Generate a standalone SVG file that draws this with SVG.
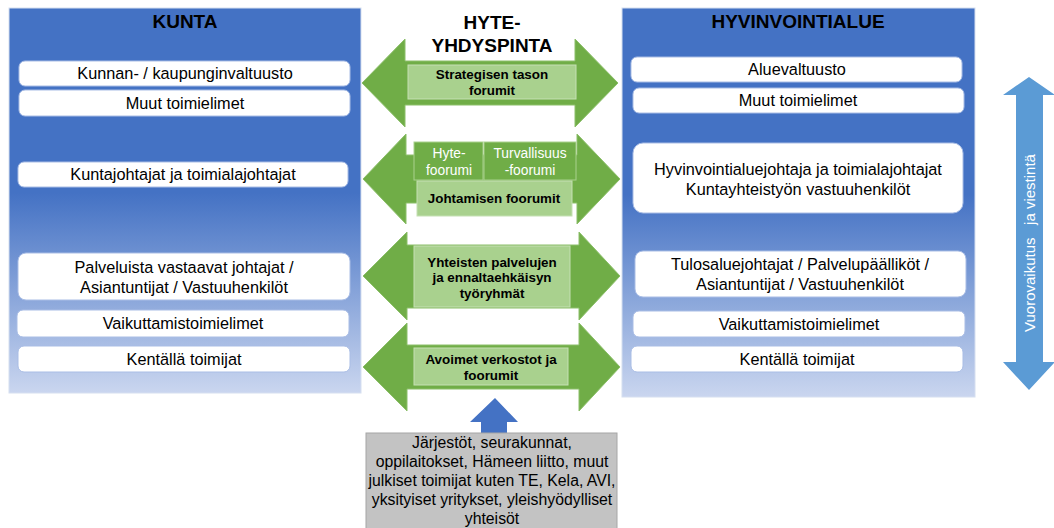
<svg xmlns="http://www.w3.org/2000/svg" width="1054" height="528" viewBox="0 0 1054 528">
<defs>
<linearGradient id="panelGrad" x1="0" y1="0" x2="0" y2="1">
<stop offset="0" stop-color="#4472C4"/>
<stop offset="0.48" stop-color="#4472C4"/>
<stop offset="1" stop-color="#CAD6EF"/>
</linearGradient>
<style>
.panel{fill:url(#panelGrad);stroke:#D6DFF0;stroke-width:1}
.title{font-family:"Liberation Sans",Arial,sans-serif;font-size:19px;font-weight:bold;fill:#000;text-anchor:middle}
.wbox{fill:#FFFFFF;stroke:#A9BDE5;stroke-width:1}
.wtxt{font-family:"Liberation Sans",Arial,sans-serif;font-size:16.3px;fill:#000;text-anchor:middle}
.gray{font-family:"Liberation Sans",Arial,sans-serif;font-size:15.8px;fill:#000;text-anchor:middle}
.garrow{fill:#70AD47;stroke:#8CBF6A;stroke-width:1}
.lbox{fill:#A9D18E;stroke:#C5E0B4;stroke-width:1}
.dbox{fill:#70AD47;stroke:#A9D18E;stroke-width:1}
.btxt{font-family:"Liberation Sans",Arial,sans-serif;font-size:13.4px;font-weight:bold;fill:#000;text-anchor:middle}
.gtxt{font-family:"Liberation Sans",Arial,sans-serif;font-size:13.8px;fill:#FFFFFF;text-anchor:middle}
.vtxt{font-family:"Liberation Sans",Arial,sans-serif;font-size:15px;fill:#FFFFFF;text-anchor:middle;white-space:pre}
</style>
</defs>

<g id="kunta">
<rect class="panel" x="9" y="8" width="352" height="385"/>
<text class="title" x="185" y="28">KUNTA</text>
</g>
<g id="kunta-valtuusto"><rect class="wbox" x="19" y="61" width="331" height="25" rx="6"/><text class="wtxt" x="185" y="79">Kunnan- / kaupunginvaltuusto</text></g>
<g id="kunta-muut"><rect class="wbox" x="19" y="90" width="331" height="26" rx="6"/><text class="wtxt" x="185" y="109">Muut toimielimet</text></g>
<g id="kunta-johtajat"><rect class="wbox" x="18" y="162" width="330" height="25" rx="6"/><text class="wtxt" x="183" y="180">Kuntajohtajat ja toimialajohtajat</text></g>
<g id="kunta-palvelut"><rect class="wbox" x="18" y="253" width="332" height="47" rx="8"/><text class="wtxt" x="184" y="273">Palveluista vastaavat johtajat /</text><text class="wtxt" x="184" y="293">Asiantuntijat / Vastuuhenkilöt</text></g>
<g id="kunta-vaikuttamis"><rect class="wbox" x="17" y="310" width="332" height="27" rx="6"/><text class="wtxt" x="183" y="329">Vaikuttamistoimielimet</text></g>
<g id="kunta-kentta"><rect class="wbox" x="18" y="346" width="332" height="26" rx="6"/><text class="wtxt" x="184" y="365">Kentällä toimijat</text></g>

<g id="hyvinvointialue">
<rect class="panel" x="622" y="8" width="353" height="389"/>
<text class="title" x="798" y="28">HYVINVOINTIALUE</text>
</g>
<g id="ha-valtuusto"><rect class="wbox" x="631" y="57" width="331" height="25" rx="6"/><text class="wtxt" x="797" y="75">Aluevaltuusto</text></g>
<g id="ha-muut"><rect class="wbox" x="633" y="88" width="331" height="25" rx="6"/><text class="wtxt" x="798" y="106">Muut toimielimet</text></g>
<g id="ha-johtajat"><rect class="wbox" x="633" y="143" width="330" height="70" rx="10"/><text class="wtxt" x="798" y="175">Hyvinvointialuejohtaja ja toimialajohtajat</text><text class="wtxt" x="798" y="195">Kuntayhteistyön vastuuhenkilöt</text></g>
<g id="ha-tulosalue"><rect class="wbox" x="635" y="251" width="331" height="46" rx="8"/><text class="wtxt" x="800" y="270">Tulosaluejohtajat / Palvelupäälliköt /</text><text class="wtxt" x="800" y="290">Asiantuntijat / Vastuuhenkilöt</text></g>
<g id="ha-vaikuttamis"><rect class="wbox" x="633" y="311" width="332" height="26" rx="6"/><text class="wtxt" x="799" y="330">Vaikuttamistoimielimet</text></g>
<g id="ha-kentta"><rect class="wbox" x="631" y="346" width="332" height="26" rx="6"/><text class="wtxt" x="797" y="365">Kentällä toimijat</text></g>

<g id="hyte-title">
<text class="title" x="492" y="29">HYTE-</text>
<text class="title" x="492" y="52">YHDYSPINTA</text>
</g>

<g id="connectors">
<polygon class="garrow" points="362,83 405,39 405,61 575,61 575,39 618,83 575,127 575,105 405,105 405,127"/>
<polygon class="garrow" points="363,179 406,134 406,155 577,155 577,134 620,179 577,224 577,203 406,203 406,224"/>
<polygon class="garrow" points="363,276 407,232 407,245 579,245 579,232 620,276 579,320 579,308 407,308 407,320"/>
<polygon class="garrow" points="363,367 407,323 407,345 579,345 579,323 620,367 579,411 579,389 407,389 407,411"/>
<polygon fill="#5B9BD5" points="1029,77 1055,95 1043,95 1043,362 1055,362 1029,390 1003,362 1016,362 1016,95 1003,95"/>
<polygon fill="#4472C4" points="495,398 518,422 507,422 507,433 481,433 481,422 470,422"/>
</g>

<g id="strategiset">
<rect class="lbox" x="408" y="65" width="168" height="34"/>
<text class="btxt" x="492" y="79">Strategisen tason</text>
<text class="btxt" x="492" y="95">forumit</text>
</g>
<g id="hyte-foorumi">
<rect class="dbox" x="414" y="142" width="69" height="38"/>
<text class="gtxt" x="449" y="158">Hyte-</text>
<text class="gtxt" x="449" y="175">foorumi</text>
</g>
<g id="turvallisuus-foorumi">
<rect class="dbox" x="484" y="142" width="92" height="38"/>
<text class="gtxt" x="530" y="158">Turvallisuus</text>
<text class="gtxt" x="530" y="175">-foorumi</text>
</g>
<g id="johtamisen">
<rect class="lbox" x="417" y="181" width="155" height="35"/>
<text class="btxt" x="494" y="203">Johtamisen foorumit</text>
</g>
<g id="yhteisten">
<rect class="lbox" x="414" y="246" width="156" height="61"/>
<text class="btxt" x="492" y="267">Yhteisten palvelujen</text>
<text class="btxt" x="492" y="282">ja ennaltaehkäisyn</text>
<text class="btxt" x="492" y="298">työryhmät</text>
</g>
<g id="avoimet">
<rect class="lbox" x="414" y="348" width="154" height="37"/>
<text class="btxt" x="491" y="364">Avoimet verkostot ja</text>
<text class="btxt" x="491" y="380">foorumit</text>
</g>

<g id="vuorovaikutus">
<text class="vtxt" transform="translate(1035,243) rotate(-90)">Vuorovaikutus   ja viestintä</text>
</g>

<g id="muut-toimijat">
<rect x="366" y="433" width="251" height="100" fill="#C3C3C3" stroke="#A6A6A6" stroke-width="1"/>
<text class="gray" x="492" y="448">Järjestöt, seurakunnat,</text>
<text class="gray" x="492" y="467">oppilaitokset, Hämeen liitto, muut</text>
<text class="gray" x="492" y="486">julkiset toimijat kuten TE, Kela, AVI,</text>
<text class="gray" x="492" y="505">yksityiset yritykset, yleishyödylliset</text>
<text class="gray" x="492" y="524">yhteisöt</text>
</g>
</svg>
